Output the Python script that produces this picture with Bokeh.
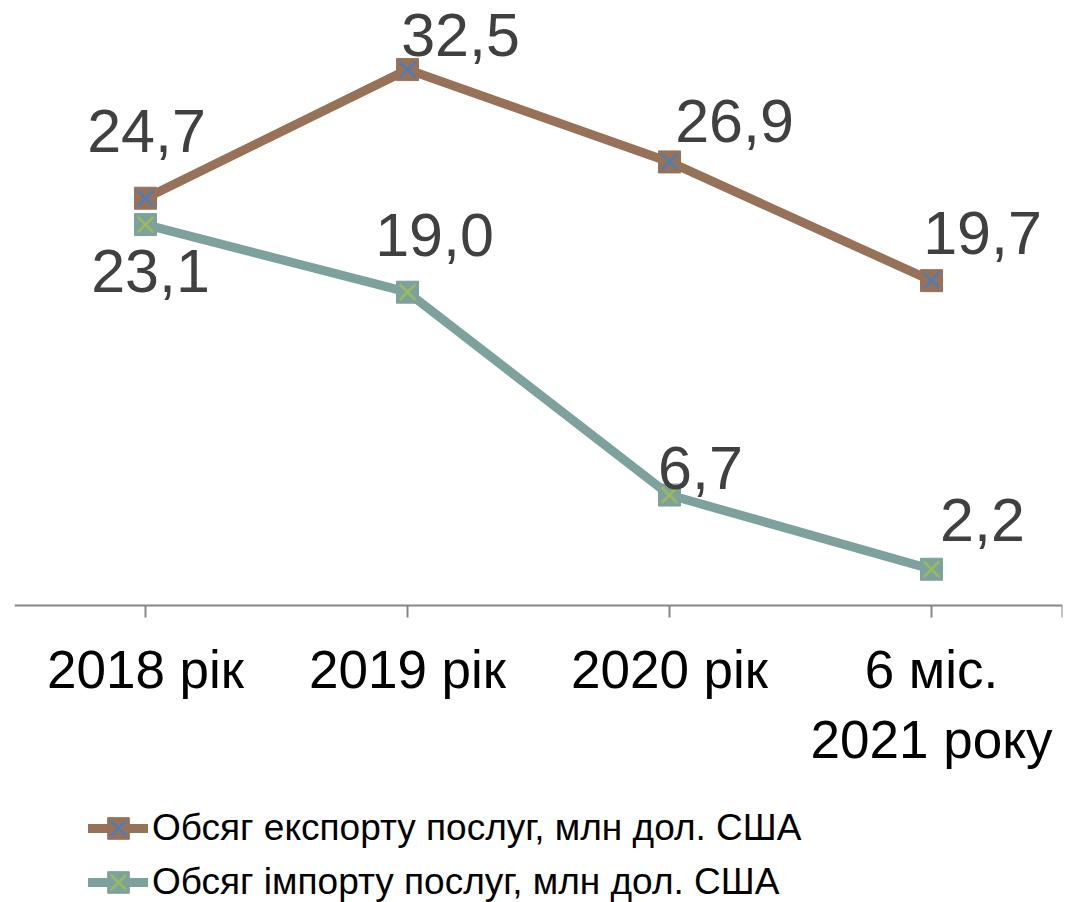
from bokeh.plotting import figure
from bokeh.models import (ColumnDataSource, Range1d, FixedTicker, Legend, LegendItem)
from bokeh.core.properties import value
from bokeh.embed import file_html
from bokeh.resources import INLINE

# ---- data ----
categories = ["2018 рік", "2019 рік", "2020 рік", "6 міс.\n2021 року"]
export_vals = [24.7, 32.5, 26.9, 19.7]
import_vals = [23.1, 19.0, 6.7, 2.2]
export_name = "Обсяг експорту послуг, млн дол. США"
import_name = "Обсяг імпорту послуг, млн дол. США"

xs = [i + 0.5 for i in range(len(categories))]

def fmt(v):
    return f"{v:.1f}".replace(".", ",")

EXP_COL = "#977259"
IMP_COL = "#7da29d"
EXP_X = "#4a7ebb"
IMP_X = "#9bbb59"
FONT = "Liberation Sans"

# frame covers the whole canvas; value 0 sits at 605px from the top
p = figure(width=1067, height=902, output_backend="svg", toolbar_location=None,
           x_range=Range1d(0, 4), y_range=Range1d(-18.01, 36.69),
           min_border_left=14, min_border_right=5, min_border_top=0,
           min_border_bottom=0)
p.outline_line_color = None
p.grid.visible = False
p.yaxis.visible = False
p.background_fill_color = "white"

# label offsets in screen pixels (layout only)
exp_dx = [1, 53, 65, 51]
exp_dy = [-67, -35, -41, -48]
imp_dx = [5, 27, 31, 51]
imp_dy = [46, -57, -27, -49]

exp_src = ColumnDataSource(dict(x=xs, y=export_vals, t=[fmt(v) for v in export_vals],
                                dx=exp_dx, dy=exp_dy))
imp_src = ColumnDataSource(dict(x=xs, y=import_vals, t=[fmt(v) for v in import_vals],
                                dx=imp_dx, dy=imp_dy))

el = p.line("x", "y", source=exp_src, line_color=EXP_COL, line_width=9, line_cap="round", line_join="round")
es = p.scatter("x", "y", source=exp_src, marker="square", size=22, fill_color=EXP_COL, line_color=EXP_COL)
ex = p.scatter("x", "y", source=exp_src, marker="x", size=22, line_color=EXP_X, line_width=2.5)

il = p.line("x", "y", source=imp_src, line_color=IMP_COL, line_width=9, line_cap="round", line_join="round")
is_ = p.scatter("x", "y", source=imp_src, marker="square", size=22, fill_color=IMP_COL, line_color=IMP_COL)
ix = p.scatter("x", "y", source=imp_src, marker="x", size=22, line_color=IMP_X, line_width=2.5)

for src in (exp_src, imp_src):
    p.text("x", "y", text="t", source=src, x_offset="dx", y_offset="dy",
           text_font=value(FONT), text_font_size="61px", text_color="#404040",
           text_align="center", text_baseline="middle")

ax = p.xaxis[0]
ax.fixed_location = 0
ax.ticker = FixedTicker(ticks=xs + [4])
overrides = {x: c for x, c in zip(xs, categories)}
overrides[4] = ""
ax.major_label_overrides = overrides
ax.axis_line_color = "#868686"
ax.axis_line_width = 2
ax.major_tick_line_color = "#868686"
ax.major_tick_line_width = 2
ax.major_tick_out = 12
ax.major_tick_in = 0
ax.minor_tick_line_color = None
ax.major_label_text_font = FONT
ax.major_label_text_font_size = "53px"
ax.major_label_text_color = "black"
ax.major_label_standoff = 22

legend = Legend(items=[LegendItem(label=export_name, renderers=[el, es, ex]),
                       LegendItem(label=import_name, renderers=[il, is_, ix])],
                location=(74, -7), orientation="vertical",
                margin=0, padding=0, spacing=0, glyph_width=60, glyph_height=54,
                label_height=54, label_standoff=4,
                label_text_font=FONT, label_text_font_size="37px", label_text_color="black",
                border_line_color=None, background_fill_alpha=0)
p.add_layout(legend, "center")

open("out.html", "w").write(file_html(p, INLINE))
